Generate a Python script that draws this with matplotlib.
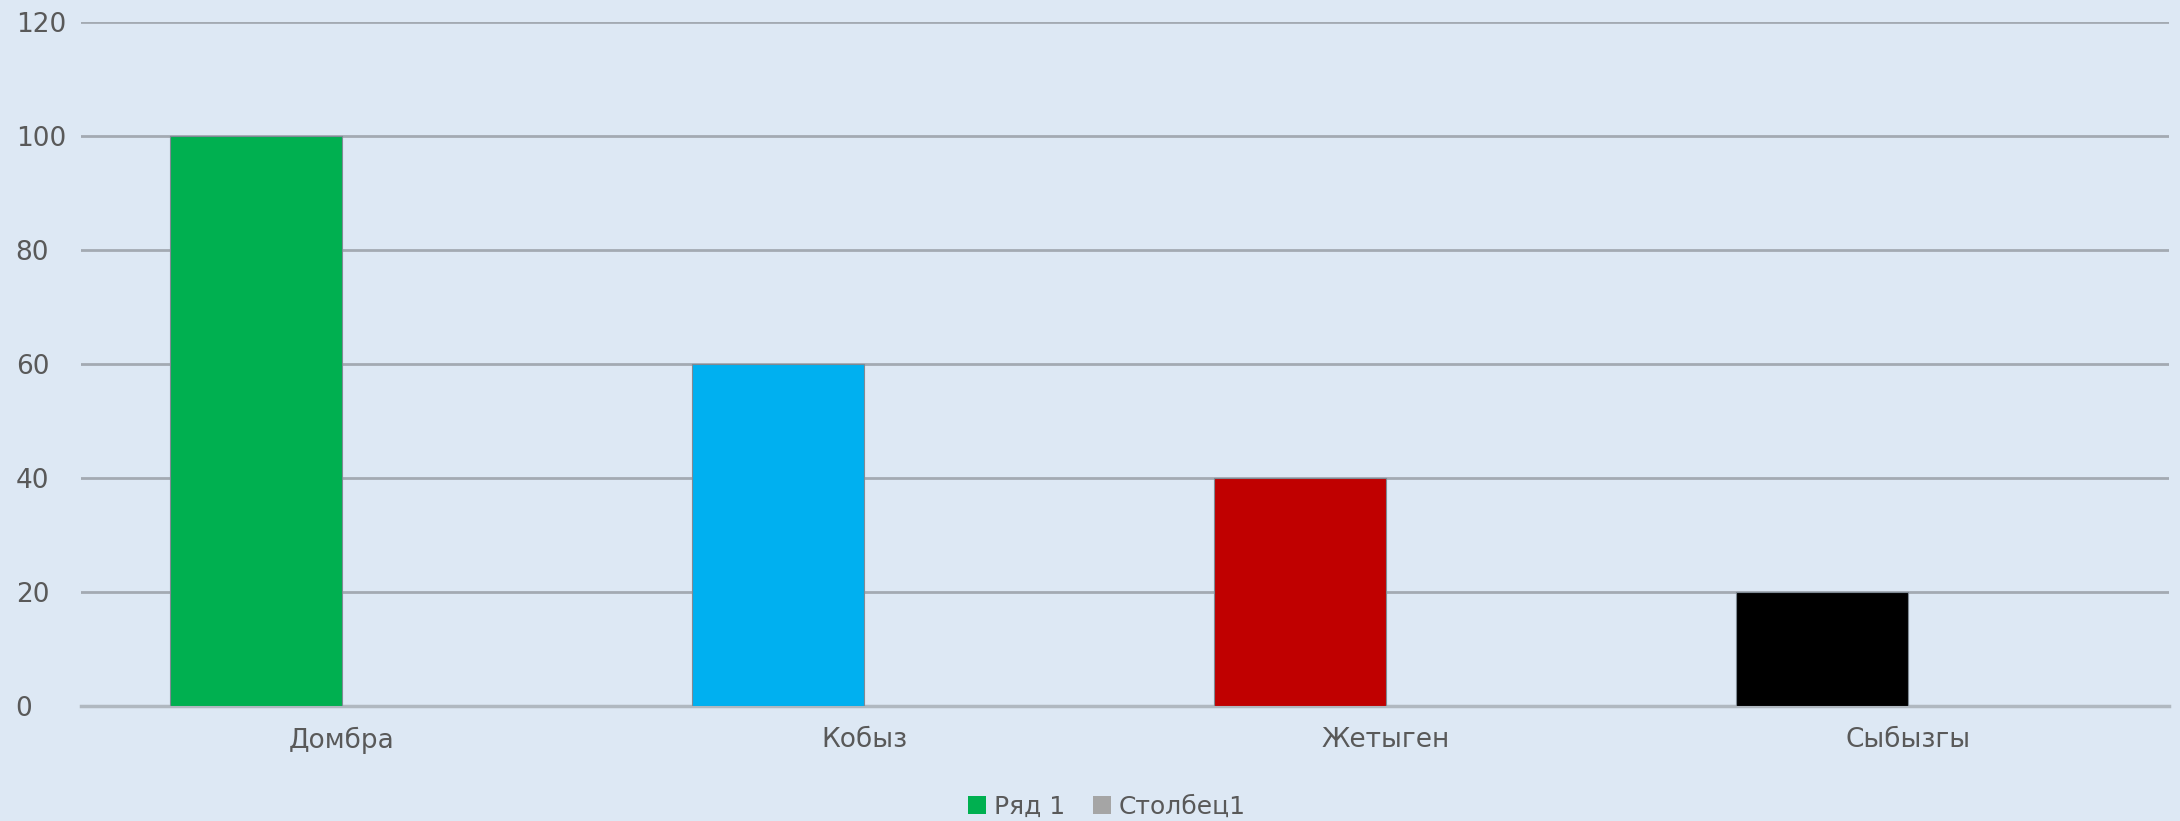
import numpy as np
import matplotlib.pyplot as plt
from matplotlib.patches import Patch

categories = ['Домбра', 'Кобыз', 'Жетыген', 'Сыбызгы']
series1 = [100, 60, 40, 20]
series2 = [0, 0, 0, 0]
series_names = ['Ряд 1', 'Столбец1']
bar_colors = ['#00B050', '#00B0F0', '#C00000', '#000000']
yticks = [0, 20, 40, 60, 80, 100, 120]

bg = '#DDE8F4'
text_c = '#595959'
grid_c = '#A3AAB2'

plt.rcParams['font.family'] = ['DejaVu Sans']

fig = plt.figure(figsize=(21.8, 8.21), dpi=100, facecolor=bg)
ax = fig.add_axes([81 / 2180, 1 - 706 / 821, 2088 / 2180, 684 / 821])
ax.set_facecolor(bg)

x = np.arange(len(categories))
w = 0.33
ax.bar(x - w / 2, series1, width=w, color=bar_colors, edgecolor='#7F8A94', linewidth=0.8, zorder=3)
ax.bar(x + w / 2, series2, width=w, color='#A5A5A5', zorder=3)

ax.set_xlim(-0.5, len(categories) - 0.5)
ax.set_ylim(0, 120)
ax.set_yticks(yticks)
ax.set_xticks(x)
ax.set_xticklabels(categories)
ax.grid(axis='y', color=grid_c, linewidth=2.0, zorder=1)
ax.set_axisbelow(True)

for s in ['top', 'right', 'left']:
    ax.spines[s].set_visible(False)
ax.spines['bottom'].set_color('#B0B8C0')
ax.spines['bottom'].set_linewidth(2.5)

ax.tick_params(axis='both', length=0, labelsize=19, colors=text_c)
ax.tick_params(axis='y', pad=47)
ax.tick_params(axis='x', pad=15)
for lab in ax.get_yticklabels():
    lab.set_horizontalalignment('left')

handles = [Patch(facecolor='#00B050', edgecolor='none', label=series_names[0]),
           Patch(facecolor='#A5A5A5', edgecolor='none', label=series_names[1])]
fig.legend(handles=handles, loc='center', bbox_to_anchor=(1107 / 2180, 1 - 807 / 821), ncol=2,
           frameon=False, fontsize=18, labelcolor=text_c, handlelength=0.72, handleheight=0.72,
           handletextpad=0.32, columnspacing=1.1, borderpad=0)

fig.savefig('out.png', dpi=100, facecolor=bg)
